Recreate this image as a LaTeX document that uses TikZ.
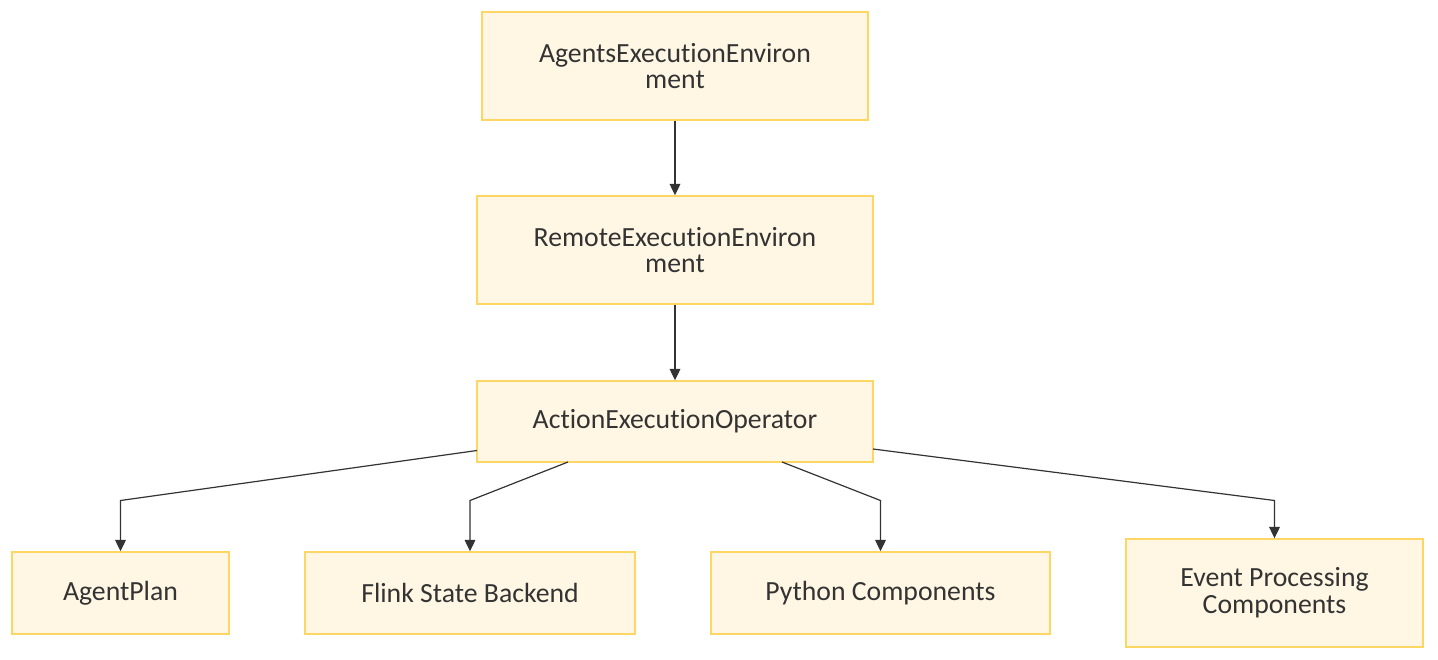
\documentclass[tikz,border=0pt]{standalone}
\usepackage{fontspec}
\setmainfont[Ligatures={NoCommon}]{Carlito}
\usetikzlibrary{arrows.meta}
\definecolor{boxfill}{HTML}{FFF7E3}
\definecolor{boxline}{HTML}{FDD663}
\definecolor{ink}{HTML}{333333}
\begin{document}
\begin{tikzpicture}[x=0.75pt,y=-0.75pt,
  box/.style={draw=boxline,fill=boxfill,line width=1.1pt,inner sep=0pt,
    font=\fontsize{20.8}{20}\selectfont,text=ink,align=center},
  conn/.style={draw=ink,line width=0.9pt,-{Triangle[length=8.5pt,width=8pt]}}]
\useasboundingbox (0,0) rectangle (1438,660);
\node[box,minimum width=386*0.75pt,minimum height=108*0.75pt] (A) at (675,66) {AgentsExecutionEnviron\\ment};
\node[box,minimum width=396*0.75pt,minimum height=108*0.75pt] (R) at (675,250) {RemoteExecutionEnviron\\ment};
\node[box,minimum width=396*0.75pt,minimum height=81*0.75pt] (O) at (675,421.5) {ActionExecutionOperator};
\node[box,minimum width=217*0.75pt,minimum height=82*0.75pt] (P) at (120.5,593) {AgentPlan};
\node[box,minimum width=330*0.75pt,minimum height=82*0.75pt] (F) at (470,593) {Flink State Backend};
\node[box,minimum width=339*0.75pt,minimum height=82*0.75pt] (Y) at (880.5,593) {Python Components};
\node[box,minimum width=297*0.75pt,minimum height=108*0.75pt] (E) at (1274.5,593) {Event Processing\\Components};
\coordinate (c1) at (120.5,500.5);
\coordinate (c2) at (470,500.5);
\coordinate (c3) at (880.5,500.5);
\coordinate (c4) at (1274.5,500.5);
\coordinate (s1) at (477,450.5);
\coordinate (s2) at (568,462);
\coordinate (s3) at (782,462);
\coordinate (s4) at (873,449);
\draw[conn] (A) -- (R);
\draw[conn] (R) -- (O);
\draw[conn] (s1) -- (c1) -- (P);
\draw[conn] (s2) -- (c2) -- (F);
\draw[conn] (s3) -- (c3) -- (Y);
\draw[conn] (s4) -- (c4) -- (E);
\end{tikzpicture}
\end{document}
